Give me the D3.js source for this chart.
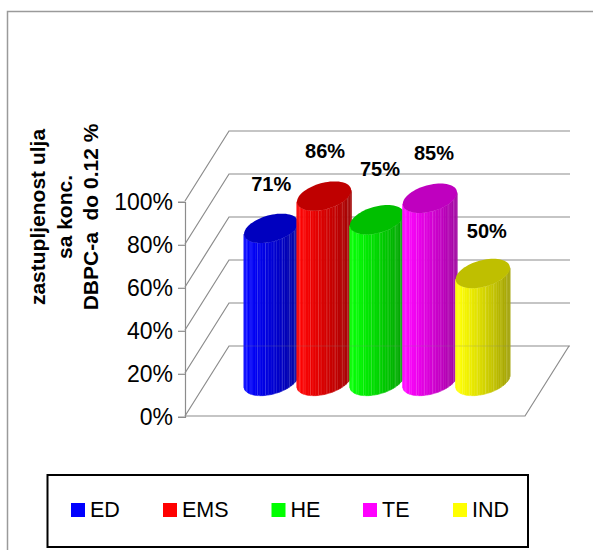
<!DOCTYPE html>
<html>
<head>
<meta charset="utf-8">
<script src="https://cdn.jsdelivr.net/npm/d3@7/dist/d3.min.js"></script>
<style>
html,body{margin:0;padding:0;background:#fff}
svg{display:block;font-family:"Liberation Sans",Arial,sans-serif}
</style>
</head>
<body>
<svg id="chart" width="593" height="550"></svg>
<script>
// Share of oils at a DBPC-a concentration up to 0.12 %
const categories = ["ED", "EMS", "HE", "TE", "IND"];
const values = [71, 86, 75, 85, 50];
const colors = ["#0000ff", "#ff0000", "#00ff00", "#ff00ff", "#ffff00"];
const tickValues = [0, 20, 40, 60, 80, 100];
const titleLines = ["zastupljenost ulja", "sa konc.", "DBPC-a  do 0.12 %"];

// Layout of the oblique box
const wallX = 185, floorRight = 525;
const depth = {x: 44, y: -70};
const gridRight = 570;
const labelLift = [44, 45, 51, 45, 42.5];
const labelShift = [0, 1, 3, 4, 4];
const legendX = [71, 163, 271.5, 363, 453];

const svg = d3.select("#chart");
const y = d3.scaleLinear().domain([0, 100]).range([416, 201]);
const x = d3.scaleBand().domain(categories).range([244.7, 509.3]).padding(0);
const height = v => y(0) - y(v);
const frameColor = "#8c8c8c";

// Outer chart frame
svg.append("path")
  .attr("d", "M7.5,550V11.5H593")
  .attr("fill", "none").attr("stroke", "#9a9a9a").attr("stroke-width", 1.5);

// Walls and floor
const grid = svg.append("g").attr("fill", "none").attr("stroke", frameColor).attr("stroke-width", 1.2);
tickValues.forEach(t => {
  grid.append("path").attr("d", d3.line()([
    [wallX, y(t)], [wallX + depth.x, y(t) + depth.y], [gridRight, y(t) + depth.y]
  ]));
});
grid.append("path").attr("d", d3.line()([
  [wallX + depth.x + 340, y(0) + depth.y], [floorRight, y(0)], [wallX, y(0)]
]));

// Value axis
const axis = svg.append("g")
  .attr("transform", `translate(${wallX},0.8)`)
  .call(d3.axisLeft(y).tickValues(tickValues).tickFormat(d => d + "%").tickSize(7).tickPadding(5));
axis.selectAll("path,line").attr("stroke", frameColor).attr("stroke-width", 1.2);
axis.selectAll("text").attr("font-size", 23).attr("fill", "#000")
  .attr("font-family", "'Liberation Sans',Arial,sans-serif");

// Cylinders: base ellipse lies on a plane set back from the front edge
const baseY = 381;
const rx = 25, dx = 10.5, ry = 14.7;
const ellipseAt = (cx, cy, t) => [cx + rx * Math.cos(t) + dx * Math.sin(t), cy - ry * Math.sin(t)];
const tLeft = Math.PI + Math.atan2(dx, rx);
const halfW = Math.hypot(rx, dx);
const facetCount = 30;

function ring(cx, cy) {
  const pts = d3.range(0, 73).map(i => ellipseAt(cx, cy, i / 72 * 2 * Math.PI));
  return d3.line()(pts) + "Z";
}
function shade(base, f) {
  const c = d3.rgb(base);
  return d3.rgb(c.r * f, c.g * f, c.b * f).formatHex();
}
const brightness = d3.scaleLinear().domain([0, 0.06, 0.4, 0.7, 1]).range([1, 1, 0.88, 0.76, 0.62]);

categories.forEach((cat, i) => {
  const cx = x(cat) + x.bandwidth() / 2;
  const topY = baseY - height(values[i]);
  const g = svg.append("g");
  // Front half of the lateral surface, sliced into vertical facets
  const ts = d3.range(0, facetCount + 1).map(k => tLeft + k / facetCount * Math.PI);
  d3.pairs(ts).forEach(([a, b], k) => {
    const pa = ellipseAt(cx, baseY, a), pb = ellipseAt(cx, baseY, b);
    const qa = ellipseAt(cx, topY, a), qb = ellipseAt(cx, topY, b);
    const f = brightness(((pa[0] + pb[0]) / 2 - (cx - halfW)) / (2 * halfW));
    g.append("path")
      .attr("d", d3.line()([qa, qb, pb, pa]) + "Z")
      .attr("fill", shade(colors[i], f))
      .attr("stroke", d3.interpolateRgb(shade(colors[i], f), "#fff")(k % 3 === 1 ? 0.28 : 0.04))
      .attr("stroke-width", 0.6);
  });
  // Top cap
  g.append("path").attr("d", ring(cx, topY)).attr("fill", shade(colors[i], 0.75));
});

// Back floor line shows faintly through the cylinders
svg.append("line")
  .attr("x1", x.range()[0]).attr("x2", x.range()[1])
  .attr("y1", y(0) + depth.y).attr("y2", y(0) + depth.y)
  .attr("stroke", "#888").attr("stroke-opacity", 0.25);

// Value labels
categories.forEach((cat, i) => {
  svg.append("text")
    .attr("x", x(cat) + x.bandwidth() / 2 + labelShift[i])
    .attr("y", baseY - height(values[i]) - labelLift[i])
    .attr("dy", "0.35em")
    .attr("text-anchor", "middle")
    .attr("font-size", 20).attr("font-weight", "bold")
    .text(values[i] + "%");
});

// Rotated axis title
const titleX = [38, 65, 91];
titleLines.forEach((line, i) => {
  svg.append("text")
    .attr("transform", `translate(${titleX[i] + 7},217) rotate(-90)`)
    .attr("text-anchor", "middle")
    .attr("font-size", 21).attr("font-weight", "bold")
    .style("white-space", "pre")
    .text(line);
});

// Legend
svg.append("rect")
  .attr("x", 47.5).attr("y", 475).attr("width", 480.5).attr("height", 72)
  .attr("fill", "#fff").attr("stroke", "#000").attr("stroke-width", 2);
categories.forEach((cat, i) => {
  svg.append("rect")
    .attr("x", legendX[i]).attr("y", 503).attr("width", 14).attr("height", 14)
    .attr("fill", colors[i]);
  svg.append("text")
    .attr("x", legendX[i] + 19).attr("y", 516.5)
    .attr("font-size", 21.5).attr("fill", "#000")
    .text(cat);
});
</script>
</body>
</html>
